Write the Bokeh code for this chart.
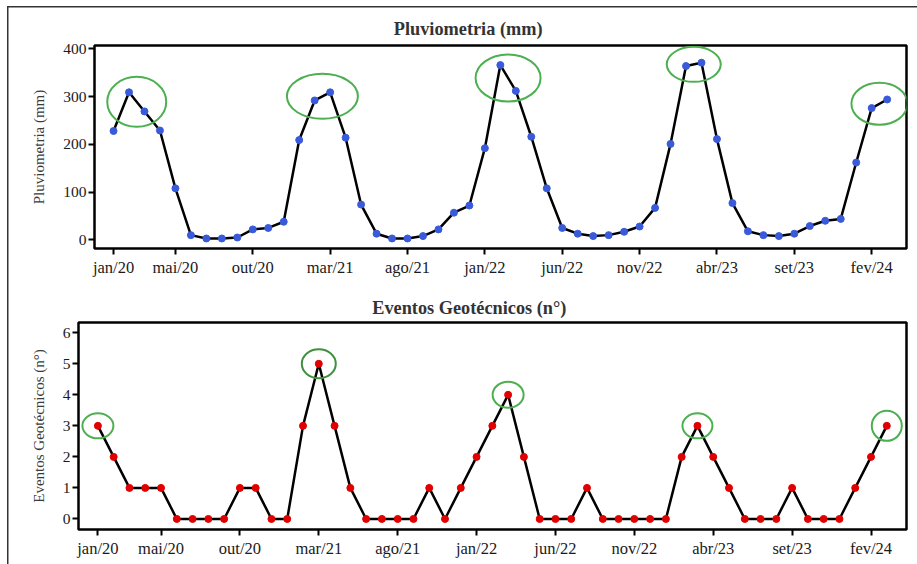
from bokeh.plotting import figure
from bokeh.models import FixedTicker, Range1d
from bokeh.embed import file_html
from bokeh.resources import INLINE

# ---------------- data ----------------
MONTH_ABBR = ["jan", "fev", "mar", "abr", "mai", "jun", "jul", "ago", "set", "out", "nov", "dez"]
START_YEAR = 20  # series starts jan/20

pluviometria = [228, 309, 269, 229, 108, 10, 3, 3, 5, 22, 25, 38, 209, 292, 309, 214, 74, 13,
                3, 3, 8, 22, 57, 72, 192, 366, 312, 216, 108, 25, 13, 8, 10, 17, 28, 67, 201,
                364, 371, 211, 77, 18, 10, 8, 13, 29, 40, 44, 162, 276, 294]
eventos = [3, 2, 1, 1, 1, 0, 0, 0, 0, 1, 1, 0, 0, 3, 5, 3, 1, 0, 0, 0, 0, 1, 0, 1, 2, 3, 4, 2,
           0, 0, 0, 1, 0, 0, 0, 0, 0, 2, 3, 2, 1, 0, 0, 0, 1, 0, 0, 0, 1, 2, 3]

x_tick_labels = ["jan/20", "mai/20", "out/20", "mar/21", "ago/21", "jan/22", "jun/22",
                 "nov/22", "abr/23", "set/23", "fev/24"]
pluv_y_ticks = [0, 100, 200, 300, 400]
event_y_ticks = [0, 1, 2, 3, 4, 5, 6]

# highlighted groups (month indices) marked with green ellipses
pluv_highlights = [[1, 2], [13, 14], [25, 26], [37, 38], [49, 50]]
event_highlights = [[0], [14], [26], [38], [50]]

title_top = "Pluviometria (mm)"
title_bottom = "Eventos Geotécnicos (n°)"

# ---------------- styling ----------------
FONT = "Liberation Serif"
W = 917
H1, H2 = 282, 282
pluv_ell_px = [(59, 50), (71, 45), (65, 47), (54, 35), (56, 42)]
event_ell_px = [(31, 25), (34, 29), (31, 26), (30, 25), (30, 30)]
ell_colors_top = ["#4caf50"] * 5
ell_colors_bot = ["#4caf50", "#3f8f3f", "#4caf50", "#4caf50", "#4caf50"]
LINE = "linear-gradient(#333333, #333333)"


def tick_index(lbl):
    m, y = lbl.split("/")
    return (int(y) - START_YEAR) * 12 + MONTH_ABBR.index(m)


x_ticks = [tick_index(l) for l in x_tick_labels]
x_vals = list(range(len(pluviometria)))


def make_fig(height, y_range, frame, yticks, ylabel, title, title_left, title_standoff, bg):
    left, right, top, bottom = frame
    p = figure(width=W, height=height, x_range=Range1d(-1.23, 51.25), y_range=y_range,
               min_border_left=left, min_border_right=right, min_border_top=top,
               min_border_bottom=bottom, output_backend="svg", toolbar_location=None,
               tools="", styles={"background": bg})
    p.grid.visible = False
    p.outline_line_color = "black"
    p.outline_line_width = 2.5
    p.background_fill_color = "white"
    p.border_fill_color = None

    p.title.text = title
    p.title.align = "left"
    p.title.offset = title_left - left
    p.title.text_font = FONT
    p.title.text_font_style = "bold"
    p.title.text_font_size = "18.3px"
    p.title.text_color = "#333333"
    p.title.vertical_align = "bottom"
    p.title.standoff = title_standoff

    p.xaxis.ticker = FixedTicker(ticks=x_ticks)
    p.xaxis.major_label_overrides = {t: l for t, l in zip(x_ticks, x_tick_labels)}
    p.yaxis.ticker = FixedTicker(ticks=yticks)
    for ax in (p.xaxis[0], p.yaxis[0]):
        ax.axis_line_color = None
        ax.minor_tick_line_color = None
        ax.major_tick_in = 0
        ax.major_tick_out = 6
        ax.major_tick_line_width = 2
        ax.major_tick_line_color = "black"
        ax.major_label_text_font = FONT
        ax.major_label_text_color = "#1a1a1a"
    p.xaxis.major_label_text_font_size = "16.5px"
    p.xaxis.major_label_standoff = 3
    p.yaxis.major_label_text_font_size = "15.5px"
    p.yaxis.major_label_standoff = 2
    p.yaxis.axis_label = ylabel
    p.yaxis.axis_label_text_font = FONT
    p.yaxis.axis_label_text_font_style = "normal"
    p.yaxis.axis_label_text_font_size = "15px"
    p.yaxis.axis_label_text_color = "#3a3a3a"
    p.yaxis.axis_label_standoff = 13
    return p


# ---------------- top panel ----------------
bg1 = f"{LINE} 7px 6px / 1.5px 100% no-repeat, {LINE} 7px 6px / 100% 1.5px no-repeat, white"
p1 = make_fig(H1, Range1d(-18, 407), (94, 11, 45, 34), pluv_y_ticks, title_top, title_top,
              393.3, 14, bg1)
p1.line(x_vals, pluviometria, line_color="black", line_width=2.5)
p1.scatter(x_vals, pluviometria, size=7, fill_color="#3a5bd9", line_color="#3a5bd9")
cx = [sum(g) / len(g) for g in pluv_highlights]
cy = [sum(pluviometria[i] for i in g) / len(g) for g in pluv_highlights]
p1.ellipse(x=cx, y=cy, width=[s[0] for s in pluv_ell_px], height=[s[1] for s in pluv_ell_px],
           width_units="screen", height_units="screen", fill_color=None,
           line_color=ell_colors_top, line_width=2)

# ---------------- bottom panel ----------------
bg2 = f"{LINE} 7px 0px / 1.5px 100% no-repeat, white"
p2 = make_fig(H2, Range1d(-0.34, 6.33), (78, 11, 40, 35), event_y_ticks, title_bottom,
              title_bottom, 371.7, 9, bg2)
p2.line(x_vals, eventos, line_color="black", line_width=2.5)
p2.scatter(x_vals, eventos, size=7, fill_color="#e00000", line_color="#e00000")
ex = [sum(g) / len(g) for g in event_highlights]
ey = [sum(eventos[i] for i in g) / len(g) for g in event_highlights]
p2.ellipse(x=ex, y=ey, width=[s[0] for s in event_ell_px], height=[s[1] for s in event_ell_px],
           width_units="screen", height_units="screen", fill_color=None,
           line_color=ell_colors_bot, line_width=2)

# two independent roots (no frame alignment between the panels)
open("out.html", "w").write(file_html([p1, p2], INLINE))
